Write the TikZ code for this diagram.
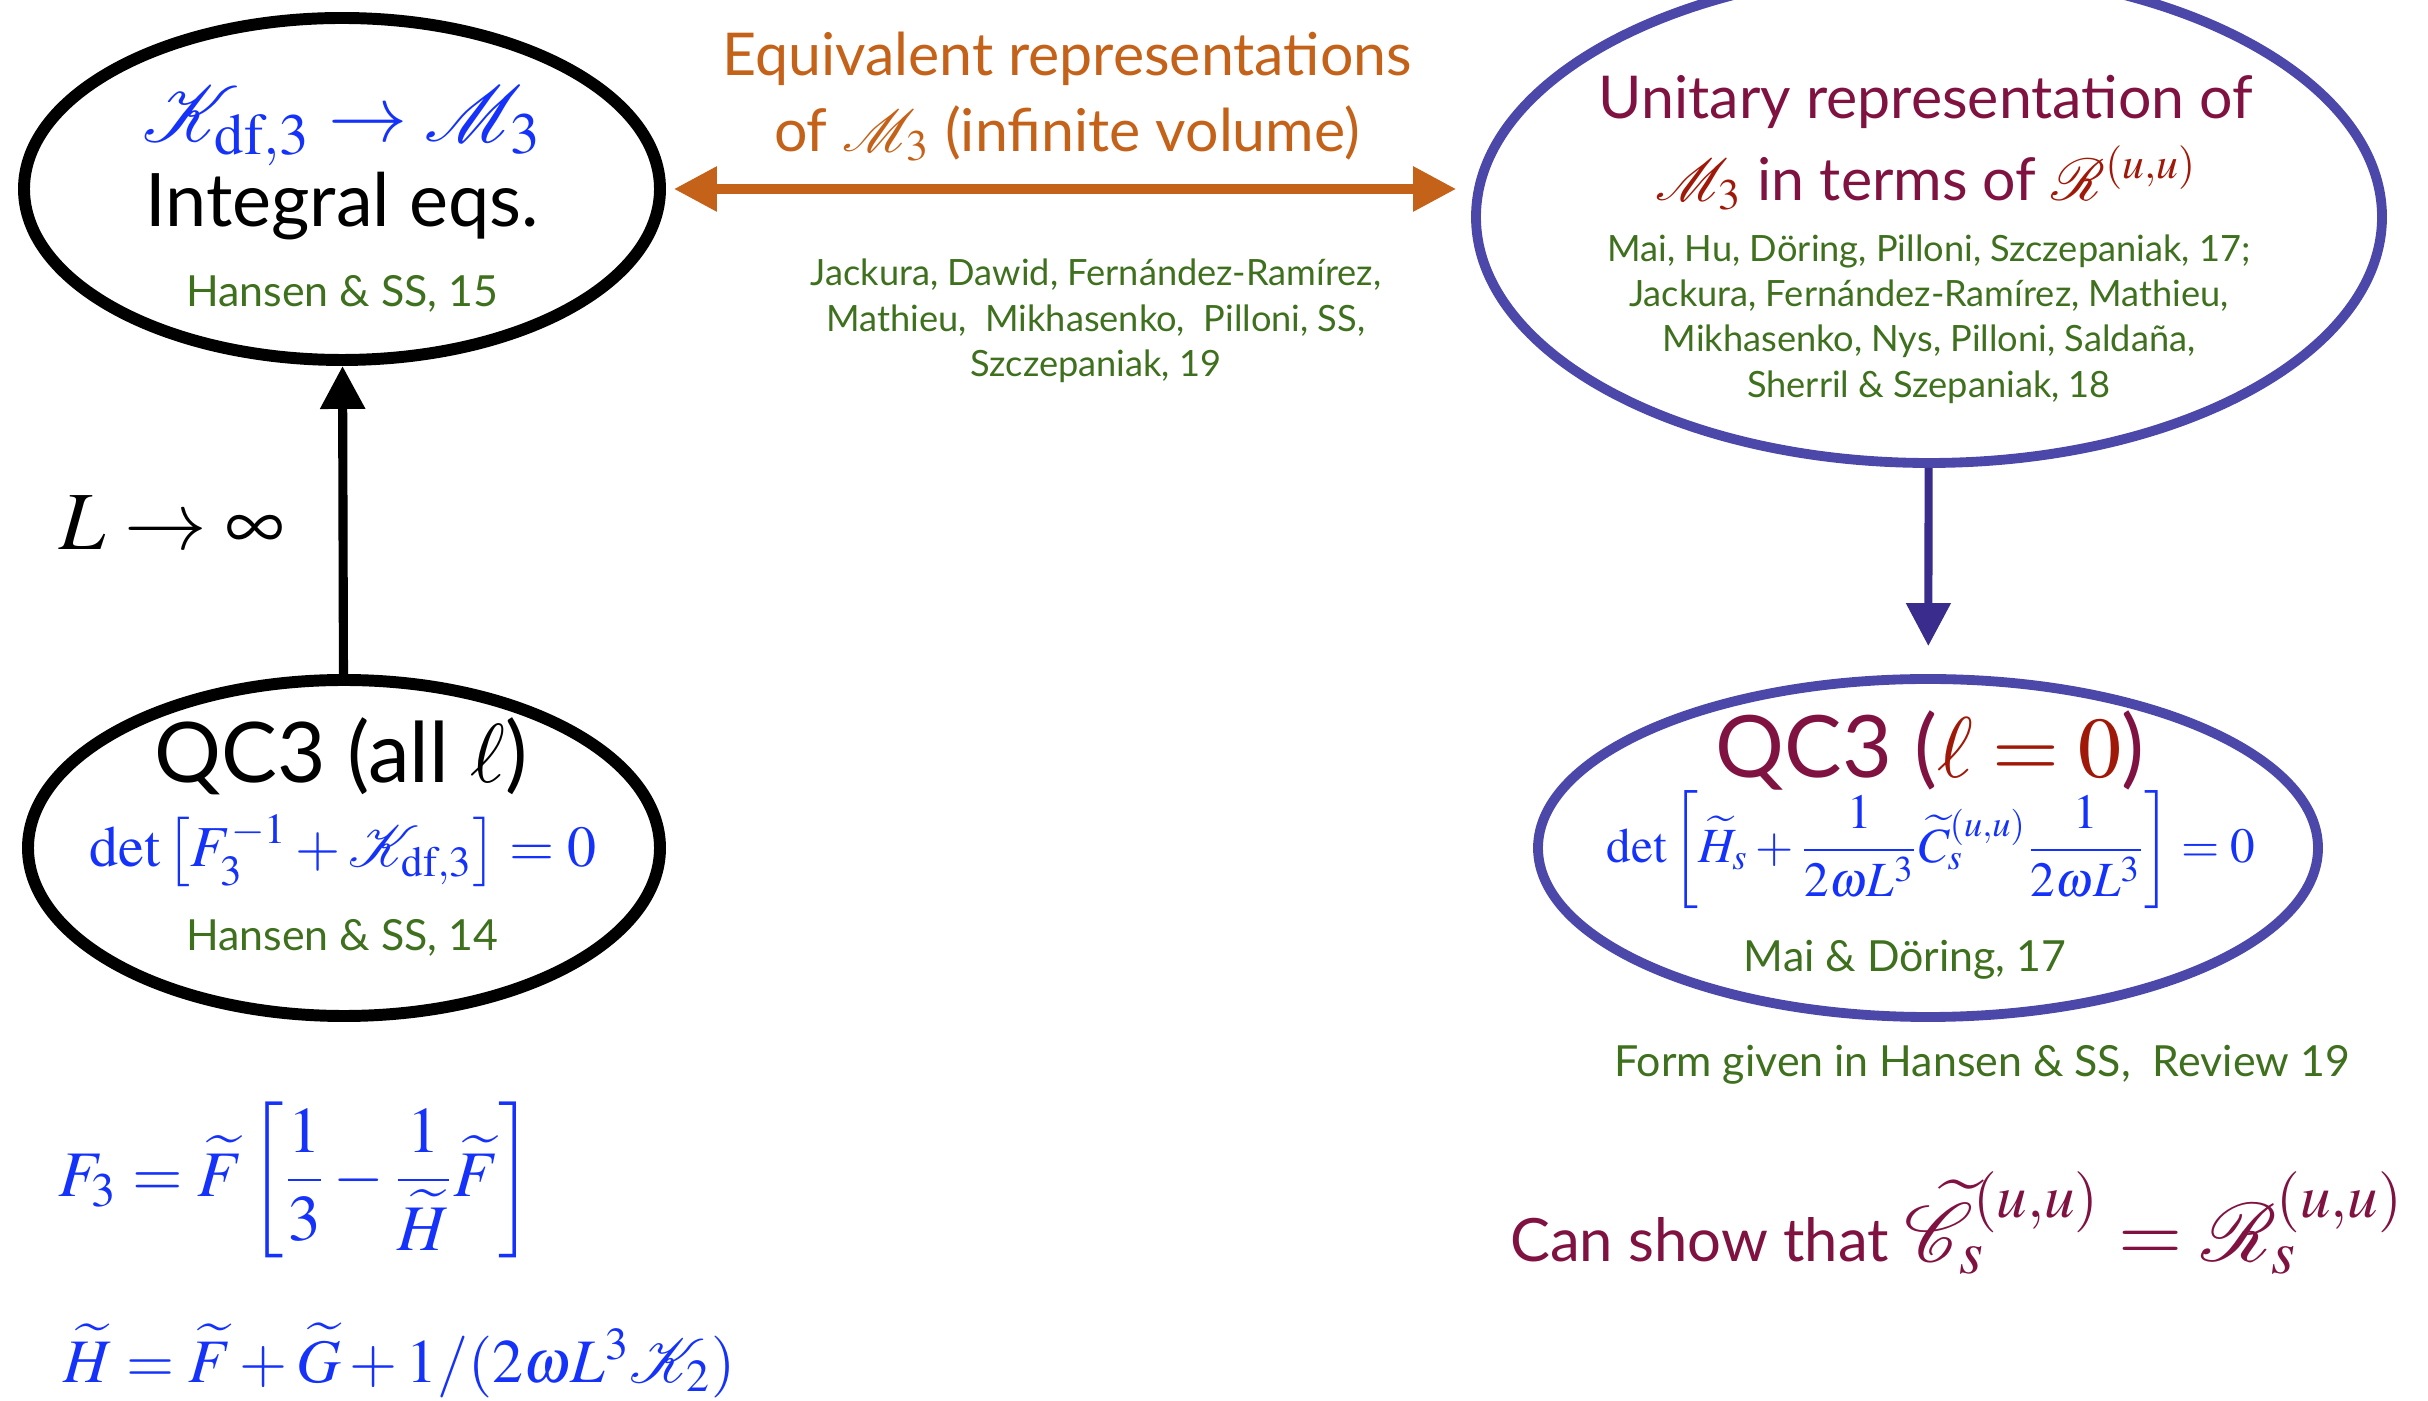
\documentclass[tikz,border=0pt]{standalone}
\usepackage{amsmath}
\usepackage{mathptmx}
\usepackage[no-math]{fontspec}
\setmainfont{Lato}
\usetikzlibrary{shapes.geometric,arrows.meta}
\definecolor{refgreen}{RGB}{62,112,30}
\definecolor{eqblue}{RGB}{20,50,250}
\definecolor{arrorange}{RGB}{196,98,26}
\definecolor{wine}{RGB}{128,18,66}
\definecolor{mathred}{RGB}{160,24,8}
\definecolor{ringblue}{RGB}{76,72,170}
\definecolor{darkindigo}{RGB}{58,44,140}

\begin{document}
\begin{tikzpicture}[
        every node/.style={inner sep=0pt},
        ring/.style={draw, ellipse, inner sep=0pt},
        bigtext/.style={font=\fontsize{21}{25}\selectfont},
        midtext/.style={align=center, font=\fontsize{16.8}{21.6}\selectfont},
        refs/.style={text=refgreen, align=center, font=\fontsize{10.3}{12.9}\selectfont},
        cite/.style={text=refgreen, font=\fontsize{12.2}{14}\selectfont},
        bigarrow/.style={line width=2.6pt, -{Triangle[length=0.43cm, width=0.43cm]}}
    ]
        \clip (0,0) rectangle (24.28,14);
        % The four ovals.
            \node[ring, line width=3.4pt, minimum width=6.36cm, minimum height=3.42cm] (intEq) at (3.42,12.11) {};
            \node[ring, line width=3.4pt, minimum width=6.32cm, minimum height=3.36cm] (qcAll) at (3.44,5.52) {};
            \node[ring, draw=ringblue, line width=2.8pt, minimum width=9.06cm, minimum height=4.92cm] (unitary) at (19.29,11.83) {};
            \node[ring, draw=ringblue, line width=2.8pt, minimum width=7.80cm, minimum height=3.38cm] (qcZero) at (19.28,5.52) {};
        % Text inside the top left oval.
            \node[text=eqblue, font=\fontsize{22.5}{26}\selectfont] (kToM) at (3.42,12.74) {$\mathcal{K}_{\rm df,3} \to \mathcal{M}_3$};
            \node[bigtext] (intLabel) at (3.42,11.94) {Integral eqs.};
            \node[cite] (citeA) at (3.42,11.06) {Hansen \& SS, 15};
        % Text inside the bottom left oval.
            \node[bigtext, font=\fontsize{23.8}{28}\selectfont] (qcAllLabel) at (3.41,6.44) {QC3 (all $\ell$)};
            \node[text=eqblue, font=\fontsize{16.5}{20}\selectfont] (detAll) at (3.43,5.49) {$\det\left[F_3^{-1}+\mathcal{K}_{\rm df,3}\right]=0$};
            \node[cite] (citeB) at (3.42,4.62) {Hansen \& SS, 14};
        % Text inside the top right oval.
            \node[midtext, text=wine] (unitLabel) at (19.26,12.98) {Unitary representation of};
            \node[midtext, text=wine] (unitLabelB) at (19.26,12.22) {{\color{mathred}$\mathcal{M}_3$} in terms of {\color{mathred}$\mathcal{R}^{(u,u)}$}};
            \node[refs] (refsC) at (19.29,10.81) {Mai, Hu, Döring, Pilloni, Szczepaniak, 17;\\
                Jackura, Fernández-Ramírez, Mathieu,\\
                Mikhasenko, Nys, Pilloni, Saldaña,\\
                Sherril \& Szepaniak, 18};
        % Text inside the bottom right oval.
            \node[bigtext, text=wine, font=\fontsize{24.5}{28}\selectfont] (qcZeroLabel) at (19.30,6.50) {QC3 ({\color{mathred}$\ell = 0$})};
            \node[text=eqblue, font=\fontsize{14}{17}\selectfont] (detZero) at (19.31,5.50) {$\det\left[\widetilde{H}_s+\dfrac{1}{2\omega L^3}\widetilde{C}_s^{(u,u)}\dfrac{1}{2\omega L^3}\right]=0$};
            \node[cite] (citeD) at (19.05,4.40) {Mai \& Döring, 17};
        % Labels between and below the ovals.
            \node[midtext, text=arrorange] (equivLabel) at (10.67,13.03) {Equivalent representations\\ of $\mathcal{M}_3$ (infinite volume)};
            \node[refs] (refsMid) at (10.96,10.79) {Jackura, Dawid, Fernández-Ramírez,\\
                Mathieu,\ \ Mikhasenko,\ \ Pilloni, SS,\\
                Szczepaniak, 19};
            \node[font=\fontsize{23.5}{27}\selectfont] (limit) at (1.72,8.77) {$L \to \infty$};
            \node[cite] (formGiven) at (19.82,3.35) {Form given in Hansen \& SS,\ \ Review 19};
            \node[text=wine, font=\fontsize{17}{20}\selectfont] (canShow) at (19.57,1.77) {Can show that {\fontsize{23.5}{27}\selectfont$\widetilde{\mathcal{C}}_s^{(u,u)} = \mathcal{R}_s^{(u,u)}$}};
            \node[text=eqblue, font=\fontsize{18.5}{22}\selectfont, anchor=west] (fThree) at (0.58,2.20) {$F_3 = \widetilde{F}\left[\dfrac{1}{3} - \dfrac{1}{\widetilde{H}}\widetilde{F}\right]$};
            \node[text=eqblue, font=\fontsize{17.6}{21}\selectfont, anchor=west] (hTilde) at (0.63,0.40) {$\widetilde{H} = \widetilde{F} + \widetilde{G} + 1/(2\omega L^3\mathcal{K}_2)$};
        % Arrows between the ovals.
            \draw[bigarrow] (qcAll) -- (intEq);
            \draw[bigarrow, arrorange, {Triangle[length=0.43cm, width=0.43cm]}-{Triangle[length=0.43cm, width=0.43cm]}, shorten <=0.08cm, shorten >=0.15cm] (intEq.east) -- (intEq.east -| unitary.west);
            \draw[bigarrow, darkindigo, line width=2.3pt, shorten >=0.28cm] (unitary) -- (qcZero);
    \end{tikzpicture}
\end{document}
